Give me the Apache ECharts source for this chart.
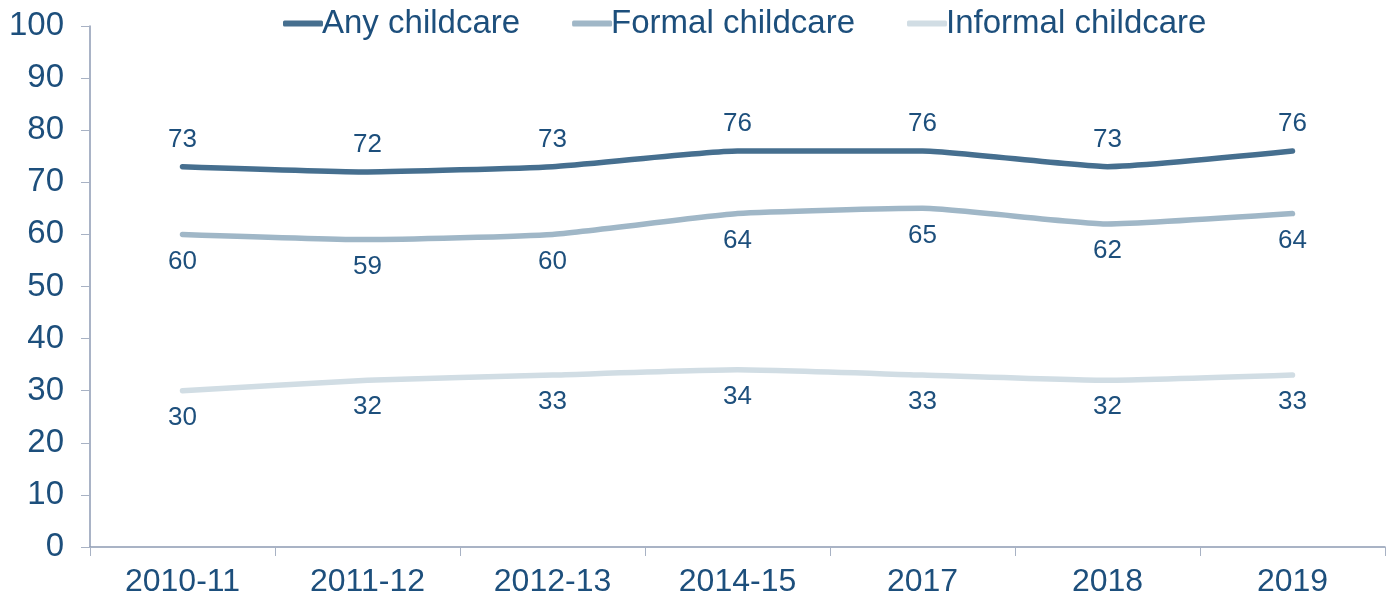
<!DOCTYPE html>
<html><head><meta charset="utf-8">
<script src="https://cdn.jsdelivr.net/npm/echarts@6/dist/echarts.min.js"></script>
<style>html,body{margin:0;padding:0;background:#fff}#c{width:1392px;height:602px}</style>
</head><body><div id="c"></div>
<script>
const categories = ['2010-11','2011-12','2012-13','2014-15','2017','2018','2019'];
const anyChildcare = [73,72,73,76,76,73,76];
const formalChildcare = [60,59,60,64,65,62,64];
const informalChildcare = [30,32,33,34,33,32,33];
const seriesNames = ['Any childcare','Formal childcare','Informal childcare'];

const textColor = '#1d4f7c';
const font = 'Liberation Sans, Arial, sans-serif';
const chart = echarts.init(document.getElementById('c'), null, {renderer:'canvas'});
function s(name, data, color, pos, dist){
  return {name, type:'line', data, symbol:'circle', symbolSize:0, showSymbol:true, smooth:0.15,
    lineStyle:{color, width:5.5, cap:'round', join:'round'}, itemStyle:{color},
    label:{show:true, position:pos, distance:dist, color:textColor, fontSize:26, fontFamily:font}};
}
chart.setOption({
  animation:false,
  textStyle:{fontFamily:font},
  legend:{top:2, left:278, itemWidth:40, itemHeight:6, itemGap:52,
    icon:'roundRect',
    textStyle:{color:textColor, fontSize:33, fontFamily:font, padding:[0,0,0,-6]},
    data:seriesNames},
  grid:{left:90, right:7, top:26, bottom:55, containLabel:false},
  xAxis:{type:'category', data:categories, boundaryGap:true,
    axisLine:{lineStyle:{color:'#8d9ab3', width:1.5}},
    axisTick:{show:true, length:9, lineStyle:{color:'#a8b2c4'}},
    axisLabel:{color:textColor, fontSize:32, margin:19, fontFamily:font}},
  yAxis:{type:'value', min:0, max:100, interval:10,
    axisLine:{show:true, lineStyle:{color:'#8d9ab3', width:1.5}},
    axisTick:{show:true, length:9, lineStyle:{color:'#a8b2c4'}},
    splitLine:{show:false},
    axisLabel:{color:textColor, fontSize:33, margin:26, fontFamily:font}},
  series:[
    s(seriesNames[0], anyChildcare, '#466f8f', 'top', 14),
    s(seriesNames[1], formalChildcare, '#a0b7c7', 'bottom', 14),
    s(seriesNames[2], informalChildcare, '#d1dde4', 'bottom', 14)
  ]
});
</script></body></html>
